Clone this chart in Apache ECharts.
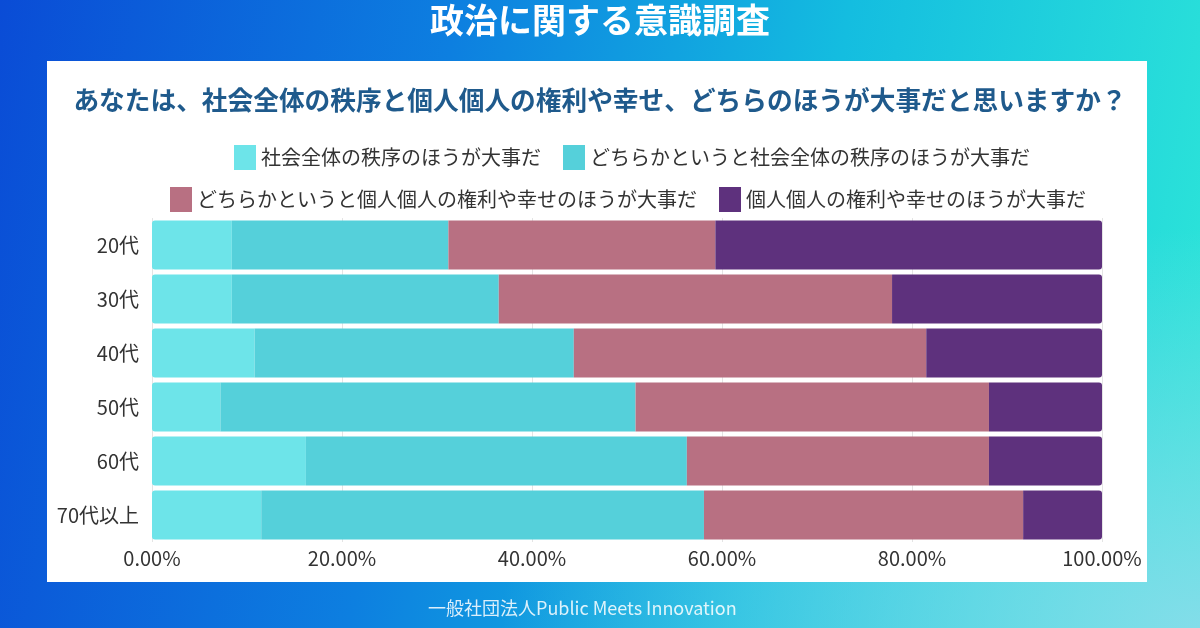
<!DOCTYPE html>
<html>
<head>
<meta charset="utf-8">
<script src="https://cdn.jsdelivr.net/npm/echarts@6/dist/echarts.min.js"></script>
<style>
  html, body { margin: 0; padding: 0; }
  #main {
    width: 1200px; height: 628px;
    background:
      radial-gradient(ellipse 700px 400px at 100% 100%, rgba(140,220,235,0.9), rgba(140,220,235,0) 100%),
      linear-gradient(100deg, #0a4cd6 0%, #0d7fe0 35%, #14bde0 65%, #2ee8d8 100%);
  }
</style>
</head>
<body>
<div id="main"></div>
<script>
var ages = ['20代', '30代', '40代', '50代', '60代', '70代以上'];
var names = [
  '社会全体の秩序のほうが大事だ',
  'どちらかというと社会全体の秩序のほうが大事だ',
  'どちらかというと個人個人の権利や幸せのほうが大事だ',
  '個人個人の権利や幸せのほうが大事だ'
];
var social = [8.4, 8.4, 10.8, 7.2, 16.2, 11.5];
var ratherSocial = [22.8, 28.1, 33.6, 43.7, 40.1, 46.6];
var ratherPersonal = [28.1, 41.4, 37.1, 37.2, 31.8, 33.6];
var personal = [40.7, 22.1, 18.5, 11.9, 11.9, 8.3];
var colors = ['#6de4e9', '#55d0da', '#b87082', '#5e317d'];
var xTicks = ['0.00%', '20.00%', '40.00%', '60.00%', '80.00%', '100.00%'];

var chartDom = document.getElementById('main');
var myChart = echarts.init(chartDom);
var font = '"Noto Sans CJK JP", "Noto Sans", sans-serif';

var values = [social, ratherSocial, ratherPersonal, personal];
var radii = [[3, 0, 0, 3], 0, 0, [0, 3, 3, 0]];

var legendBase = {
  itemWidth: 22,
  itemHeight: 25,
  itemGap: 22,
  icon: 'rect',
  textStyle: { fontSize: 20, color: '#333', fontFamily: font }
};

var option = {
  backgroundColor: 'transparent',
  textStyle: { fontFamily: font },
  color: colors,
  graphic: [
    {
      type: 'rect',
      z: -10,
      shape: { x: 47, y: 61, width: 1100, height: 521 },
      style: { fill: '#ffffff' }
    },
    {
      type: 'text',
      left: 428,
      top: 599,
      style: {
        text: '一般社団法人Public Meets Innovation',
        fill: 'rgba(255,255,255,0.85)',
        font: '18px ' + font
      }
    }
  ],
  title: [
    {
      text: '政治に関する意識調査',
      left: 'center',
      top: -2,
      textStyle: { color: '#ffffff', fontSize: 34, fontWeight: 'bold', fontFamily: font }
    },
    {
      text: 'あなたは、社会全体の秩序と個人個人の権利や幸せ、どちらのほうが大事だと思いますか？',
      left: 'center',
      top: 82,
      textStyle: { color: '#1f5a8c', fontSize: 25.7, fontWeight: 'bold', fontFamily: font }
    }
  ],
  legend: [
    Object.assign({ data: names.slice(0, 2), top: 140, left: 229 }, legendBase),
    Object.assign({ data: names.slice(2, 4), top: 182, left: 165 }, legendBase)
  ],
  grid: { left: 152, right: 98, top: 218, bottom: 86, containLabel: false },
  xAxis: {
    type: 'value',
    min: 0,
    max: 100,
    interval: 20,
    axisLine: { show: false },
    axisTick: { show: false },
    splitLine: { show: true, lineStyle: { color: '#e4e4e4' } },
    axisLabel: {
      fontSize: 20,
      color: '#333',
      margin: 6,
      formatter: function (v) { return xTicks[v / 20]; }
    }
  },
  yAxis: {
    type: 'category',
    inverse: true,
    data: ages,
    axisLine: { show: false },
    axisTick: { show: false },
    axisLabel: { fontSize: 20, color: '#333', margin: 13 }
  },
  series: names.map(function (n, i) {
    return {
      name: n,
      type: 'bar',
      stack: 'total',
      barCategoryGap: '9%',
      data: values[i],
      itemStyle: { color: colors[i], borderRadius: radii[i] },
      emphasis: { disabled: true }
    };
  })
};

myChart.setOption(option);
</script>
</body>
</html>
